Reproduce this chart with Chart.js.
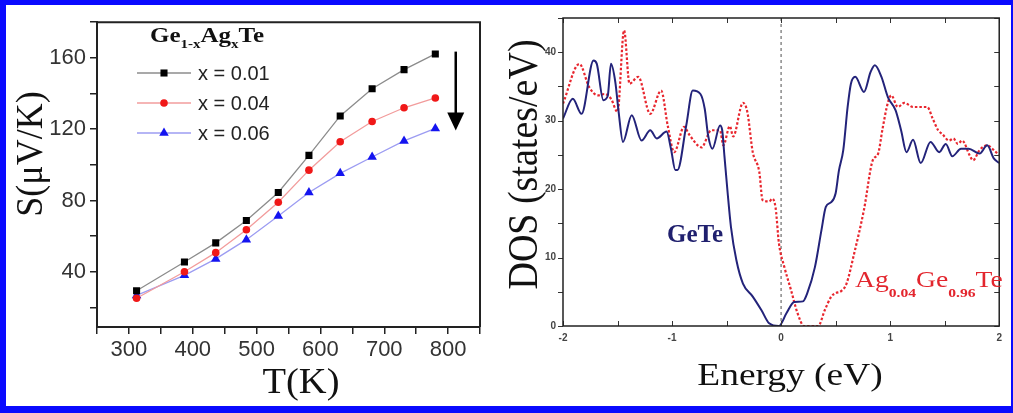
<!DOCTYPE html>
<html>
<head>
<meta charset="utf-8">
<script src="https://cdn.jsdelivr.net/npm/chart.js@4.4.1/dist/chart.umd.min.js"></script>
<style>
  html, body { margin: 0; padding: 0; background: #fff; }
  #frame {
    position: relative; width: 1013px; height: 413px; box-sizing: border-box;
    border-style: solid; border-color: #0a0aff; border-width: 5px 2px 7px 6px;
    background: #fff; overflow: hidden;
  }
  #left-wrap { position: absolute; left: 0; top: 0; }
  #right-wrap { position: absolute; left: 494px; top: 0; }
</style>
</head>
<body>
<div id="frame">
  <div id="left-wrap"><canvas id="chart-seebeck" width="494" height="401"></canvas></div>
  <div id="right-wrap"><canvas id="chart-dos" width="508" height="401"></canvas></div>
</div>
<script>
// left panel: Seebeck coefficient vs temperature
const T_K = [312, 387, 436, 484, 534, 582, 631, 681, 731, 780];
const S_X001 = [29.3, 45.5, 56.2, 68.7, 84.5, 105.3, 127.4, 142.7, 153.4, 162.2];
const S_X004 = [25.1, 40.0, 50.7, 63.6, 79.0, 97.0, 112.9, 124.3, 132.0, 137.5];
const S_X006 = [26.7, 38.0, 47.2, 58.0, 71.3, 84.5, 95.2, 104.4, 113.4, 120.4];
const SERIES_LABELS = ["x = 0.01", "x = 0.04", "x = 0.06"];
const T_LABEL_STEP = 100;
const S_LABEL_STEP = 40;

// right panel: density of states
const E_GETE = [-2.00, -1.91, -1.83, -1.72, -1.69, -1.63, -1.59, -1.56, -1.52, -1.49, -1.45, -1.37, -1.28, -1.20, -1.14, -1.05, -1.01, -0.97, -0.95, -0.87, -0.81, -0.74, -0.70, -0.67, -0.63, -0.56, -0.54, -0.52, -0.49, -0.46, -0.41, -0.35, -0.26, -0.18, -0.11, -0.02, 0.05, 0.12, 0.20, 0.24, 0.31, 0.37, 0.41, 0.46, 0.50, 0.53, 0.57, 0.61, 0.64, 0.68, 0.76, 0.82, 0.86, 0.92, 0.98, 1.05, 1.10, 1.15, 1.21, 1.28, 1.37, 1.45, 1.51, 1.57, 1.65, 1.72, 1.82, 1.89, 1.95, 2.00];
const DOS_GETE = [30.3, 33.2, 31.0, 38.8, 38.3, 33.0, 33.6, 38.3, 35.6, 31.3, 26.9, 30.8, 27.1, 28.6, 27.4, 28.4, 25.9, 22.8, 22.8, 29.3, 34.4, 33.9, 31.7, 27.9, 25.9, 29.3, 28.6, 24.9, 19.4, 14.5, 9.6, 6.2, 4.3, 2.3, 0.4, 0.0, 1.9, 3.5, 3.6, 4.8, 8.6, 14.0, 17.4, 18.1, 19.4, 22.7, 25.7, 32.0, 35.4, 36.4, 34.2, 37.1, 38.1, 36.4, 33.4, 31.5, 28.6, 25.4, 27.2, 23.8, 26.9, 25.4, 26.6, 24.8, 25.9, 25.9, 25.2, 26.4, 24.5, 23.8];
const E_AG = [-2.00, -1.85, -1.76, -1.68, -1.62, -1.56, -1.50, -1.44, -1.39, -1.31, -1.20, -1.10, -1.04, -0.98, -0.89, -0.84, -0.73, -0.64, -0.56, -0.53, -0.47, -0.44, -0.35, -0.31, -0.26, -0.20, -0.17, -0.11, -0.08, -0.05, -0.02, 0.03, 0.09, 0.15, 0.21, 0.34, 0.40, 0.46, 0.50, 0.55, 0.60, 0.67, 0.76, 0.84, 0.89, 0.93, 0.98, 1.01, 1.07, 1.13, 1.21, 1.28, 1.34, 1.39, 1.44, 1.48, 1.54, 1.58, 1.62, 1.66, 1.73, 1.76, 1.82, 1.89, 1.95, 2.00];
const DOS_AG = [32.5, 38.3, 34.9, 33.7, 33.9, 33.2, 31.3, 43.2, 35.4, 36.4, 31.0, 34.4, 29.3, 25.4, 29.1, 27.9, 26.1, 28.6, 28.6, 26.4, 29.2, 27.7, 32.6, 31.3, 25.4, 22.5, 18.4, 18.2, 18.6, 17.2, 12.1, 8.6, 5.3, 1.9, 0.0, 0.0, 2.3, 4.3, 4.8, 5.1, 6.2, 10.6, 17.0, 24.2, 25.2, 28.8, 32.7, 33.7, 32.0, 32.6, 32.0, 32.0, 32.0, 30.3, 28.6, 28.0, 27.1, 27.4, 26.6, 27.1, 24.9, 24.2, 25.7, 26.4, 25.7, 24.9];
const E_LABEL_STEP = 1;
const DOS_LABEL_STEP = 10;

const SERIF = "'Liberation Serif', 'Times New Roman', serif";
const SANS = "'Liberation Sans', Arial, sans-serif";

function pairs(xs, ys) {
  return xs.map((x, i) => ({ x: x, y: ys[i] }));
}

// text with a horizontal stretch, optional rotation and subscript parts
function drawText(ctx, parts, x, y, opts) {
  const o = Object.assign({ sx: 1, rotate: false, align: "left", color: "#000" }, opts);
  ctx.save();
  ctx.translate(x, y);
  ctx.scale(o.sx, 1);
  if (o.rotate) ctx.rotate(-Math.PI / 2);
  ctx.fillStyle = o.color;
  ctx.textBaseline = "alphabetic";
  ctx.textAlign = "left";
  let total = 0;
  parts.forEach((p) => { ctx.font = p.font; total += ctx.measureText(p.text).width; });
  let cx = o.align === "center" ? -total / 2 : 0;
  parts.forEach((p) => {
    ctx.font = p.font;
    ctx.fillText(p.text, cx, p.dy || 0);
    cx += ctx.measureText(p.text).width;
  });
  ctx.restore();
}

function drawMarker(ctx, style, x, y, r, color) {
  ctx.save();
  ctx.fillStyle = color;
  ctx.beginPath();
  if (style === "rect") {
    const s = r * Math.SQRT1_2;
    ctx.rect(x - s, y - s, 2 * s, 2 * s);
  } else if (style === "triangle") {
    ctx.moveTo(x, y - r);
    ctx.lineTo(x + r * 0.866, y + r * 0.5);
    ctx.lineTo(x - r * 0.866, y + r * 0.5);
    ctx.closePath();
  } else {
    ctx.arc(x, y, r, 0, Math.PI * 2);
  }
  ctx.fill();
  ctx.restore();
}

const seebeckDecor = {
  id: "seebeckDecor",
  afterDraw(chart) {
    const ctx = chart.ctx;
    const a = chart.chartArea;
    const xs = chart.scales.x;
    const ys = chart.scales.y;

    // top and right of the frame
    ctx.save();
    ctx.strokeStyle = "#222";
    ctx.lineWidth = 2;
    ctx.beginPath();
    ctx.moveTo(a.left, a.top);
    ctx.lineTo(a.right, a.top);
    ctx.lineTo(a.right, a.bottom);
    ctx.stroke();
    ctx.restore();

    // legend
    const b = "bold 20px " + SERIF;
    const bs = "bold 12px " + SERIF;
    drawText(ctx, [
      { text: "Ge", font: b }, { text: "1-x", font: bs, dy: 6 },
      { text: "Ag", font: b }, { text: "x", font: bs, dy: 6 },
      { text: "Te", font: b },
    ], 144, 37, { sx: 1.25, color: "#111" });

    const rows = [68, 98, 128];
    chart.data.datasets.forEach((ds, i) => {
      const y = rows[i];
      ctx.save();
      ctx.strokeStyle = ds.borderColor;
      ctx.lineWidth = ds.borderWidth;
      ctx.beginPath();
      ctx.moveTo(131, y);
      ctx.lineTo(185, y);
      ctx.stroke();
      ctx.restore();
      drawMarker(ctx, ds.pointStyle, 158, y, ds.pointRadius, ds.pointBackgroundColor);
      ctx.save();
      ctx.fillStyle = "#222";
      ctx.font = "20px " + SANS;
      ctx.textBaseline = "middle";
      ctx.fillText(ds.label, 192, y + 1);
      ctx.restore();
    });

    // downward arrow
    const ax = xs.getPixelForValue(812);
    const y0 = ys.getPixelForValue(163.5);
    const y1 = ys.getPixelForValue(119.3);
    ctx.save();
    ctx.strokeStyle = "#000";
    ctx.fillStyle = "#000";
    ctx.lineWidth = 2.5;
    ctx.beginPath();
    ctx.moveTo(ax, y0);
    ctx.lineTo(ax, y1 - 16);
    ctx.stroke();
    ctx.beginPath();
    ctx.moveTo(ax - 8.5, y1 - 18);
    ctx.lineTo(ax + 8.5, y1 - 18);
    ctx.lineTo(ax, y1);
    ctx.closePath();
    ctx.fill();
    ctx.restore();

    // axis titles
    drawText(ctx, [{ text: "S(\u03bcV/K)", font: "36px " + SERIF }], 36, 149,
      { sx: 1.05, rotate: true, align: "center", color: "#111" });
    drawText(ctx, [{ text: "T(K)", font: "35px " + SERIF }], 295, 388,
      { sx: 1.1, align: "center", color: "#111" });
  },
};

const dosDecor = {
  id: "dosDecor",
  beforeDatasetsDraw(chart) {
    const ctx = chart.ctx;
    const a = chart.chartArea;
    const x0 = chart.scales.x.getPixelForValue(0);
    ctx.save();
    ctx.strokeStyle = "#8a8a8a";
    ctx.lineWidth = 1.5;
    ctx.setLineDash([3, 3]);
    ctx.beginPath();
    ctx.moveTo(x0, a.top);
    ctx.lineTo(x0, a.bottom);
    ctx.stroke();
    ctx.restore();
  },
  afterDraw(chart) {
    const ctx = chart.ctx;
    const a = chart.chartArea;
    const xs = chart.scales.x;
    const ys = chart.scales.y;
    const tl = 5;

    ctx.save();
    ctx.strokeStyle = "#333";
    ctx.lineWidth = 1;
    ctx.beginPath();
    xs.ticks.forEach((t) => {
      const px = Math.round(xs.getPixelForValue(t.value)) + 0.5;
      ctx.moveTo(px, a.bottom); ctx.lineTo(px, a.bottom - tl);
      ctx.moveTo(px, a.top); ctx.lineTo(px, a.top + tl);
    });
    ys.ticks.forEach((t) => {
      const py = Math.round(ys.getPixelForValue(t.value)) + 0.5;
      ctx.moveTo(a.left, py); ctx.lineTo(a.left - tl, py);
      ctx.moveTo(a.right, py); ctx.lineTo(a.right - tl, py);
    });
    ctx.stroke();
    ctx.strokeStyle = "#222";
    ctx.lineWidth = 1.5;
    ctx.strokeRect(a.left, a.top, a.right - a.left, a.bottom - a.top);
    ctx.restore();

    // curve labels
    drawText(ctx, [{ text: "GeTe", font: "bold 25px " + SERIF }], 167, 237, { color: "#20206e" });
    const m = "23px " + SERIF;
    const s = "bold 13px " + SERIF;
    drawText(ctx, [
      { text: "Ag", font: m }, { text: "0.04", font: s, dy: 10 },
      { text: "Ge", font: m }, { text: "0.96", font: s, dy: 10 },
      { text: "Te", font: m },
    ], 355, 282, { sx: 1.2, color: "#e3262e" });

    // axis titles
    drawText(ctx, [{ text: "DOS (states/eV)", font: "38px " + SERIF }], 37, 159.5,
      { sx: 1.1, rotate: true, align: "center", color: "#111" });
    drawText(ctx, [{ text: "Energy (eV)", font: "32px " + SERIF }], 290, 380,
      { sx: 1.17, align: "center", color: "#111" });
  },
};

function initSeebeckChart() {
  const markerColors = ["#000000", "#f01818", "#1414f0"];
  new Chart(document.getElementById("chart-seebeck"), {
    type: "line",
    data: {
      datasets: [
        {
          label: SERIES_LABELS[0], data: pairs(T_K, S_X001),
          borderColor: "#8c8c8c", borderWidth: 1.3, pointStyle: "rect", pointRadius: 5,
          pointBackgroundColor: markerColors[0], pointBorderWidth: 0,
        },
        {
          label: SERIES_LABELS[1], data: pairs(T_K, S_X004),
          borderColor: "#f29c9c", borderWidth: 1.3, pointStyle: "circle", pointRadius: 3.8,
          pointBackgroundColor: markerColors[1], pointBorderWidth: 0,
        },
        {
          label: SERIES_LABELS[2], data: pairs(T_K, S_X006),
          borderColor: "#9c9cf2", borderWidth: 1.3, pointStyle: "triangle", pointRadius: 5.5,
          pointBackgroundColor: markerColors[2], pointBorderWidth: 0,
        },
      ],
    },
    options: {
      responsive: false,
      animation: false,
      devicePixelRatio: 1,
      events: [],
      layout: { padding: { left: 0, top: 12, right: 20, bottom: 0 } },
      plugins: { legend: { display: false }, tooltip: { enabled: false } },
      scales: {
        x: {
          type: "linear", min: 250, max: 850,
          afterFit: (s) => { s.height = 79; },
          ticks: {
            stepSize: 50, autoSkip: false, maxRotation: 0, padding: 3,
            color: "#333", font: { family: SANS, size: 22 },
            callback: (v) => (v % T_LABEL_STEP === 0 ? v : ""),
          },
          grid: { drawOnChartArea: false, tickLength: 7, color: "#222", lineWidth: 1.5 },
          border: { color: "#222", width: 2 },
        },
        y: {
          min: 9, max: 180,
          afterFit: (s) => { s.width = 91; },
          afterBuildTicks: (s) => { s.ticks = s.ticks.filter((t) => t.value % 20 === 0); },
          ticks: {
            stepSize: 20, autoSkip: false, padding: 4,
            color: "#333", font: { family: SANS, size: 22 },
            callback: (v) => (v % S_LABEL_STEP === 0 ? v : ""),
          },
          grid: { drawOnChartArea: false, tickLength: 7, color: "#222", lineWidth: 1.5 },
          border: { color: "#222", width: 2 },
        },
      },
    },
    plugins: [seebeckDecor],
  });
}

function initDosChart() {
  new Chart(document.getElementById("chart-dos"), {
    type: "line",
    data: {
      datasets: [
        {
          label: "GeTe", data: pairs(E_GETE, DOS_GETE),
          borderColor: "#23237a", borderWidth: 2, pointRadius: 0,
          cubicInterpolationMode: "monotone",
        },
        {
          label: "Ag0.04Ge0.96Te", data: pairs(E_AG, DOS_AG),
          borderColor: "#e8262e", borderWidth: 2.2, borderDash: [2.5, 2], pointRadius: 0,
          cubicInterpolationMode: "monotone",
        },
      ],
    },
    options: {
      responsive: false,
      animation: false,
      devicePixelRatio: 1,
      events: [],
      layout: { padding: { left: 0, top: 11, right: 7, bottom: 0 } },
      plugins: { legend: { display: false }, tooltip: { enabled: false } },
      scales: {
        x: {
          type: "linear", min: -2, max: 2,
          afterFit: (s) => { s.height = 80; },
          ticks: {
            stepSize: 0.5, autoSkip: false, maxRotation: 0, padding: 6,
            color: "#444", font: { family: SANS, size: 10, weight: "bold" },
            callback: (v) => (v % E_LABEL_STEP === 0 ? v : ""),
          },
          grid: { display: false, drawTicks: false },
          border: { display: false },
        },
        y: {
          min: 0, max: 45,
          afterFit: (s) => { s.width = 63; },
          ticks: {
            stepSize: 5, autoSkip: false, padding: 7,
            color: "#444", font: { family: SANS, size: 10, weight: "bold" },
            callback: (v) => (v % DOS_LABEL_STEP === 0 ? v : ""),
          },
          grid: { display: false, drawTicks: false },
          border: { display: false },
        },
      },
    },
    plugins: [dosDecor],
  });
}

initSeebeckChart();
initDosChart();
</script>
</body>
</html>
